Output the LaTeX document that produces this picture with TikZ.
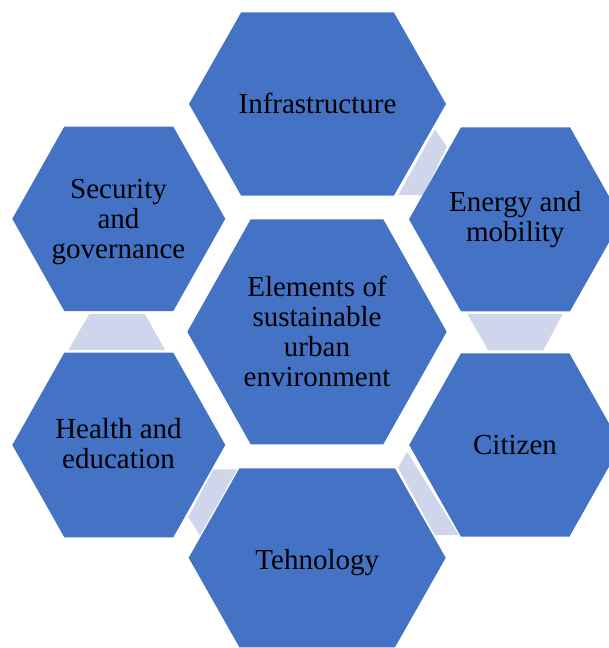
\documentclass[tikz,border=0pt]{standalone}
\usepackage{fontspec}
\setmainfont{Liberation Serif}
\definecolor{hexblue}{HTML}{4472C4}
\definecolor{hexlight}{HTML}{CFD5EA}
\tikzset{
  hexfill/.style={fill=hexblue},
  linkfill/.style={fill=hexlight},
  hexlabel/.style={anchor=base, inner sep=0pt, font=\fontsize{29}{30}\selectfont, text=black}
}
% #1 style, #2 cx, #3 cy, #4 half width, #5 half top edge, #6 half height
\newcommand{\hexshape}[6]{\fill[#1] ({#2-#4},#3) -- ({#2-#5},{#3-#6}) -- ({#2+#5},{#3-#6}) -- ({#2+#4},#3) -- ({#2+#5},{#3+#6}) -- ({#2-#5},{#3+#6}) -- cycle;}
\newcommand{\lines}[1]{\begin{tabular}[t]{@{}c@{}}#1\end{tabular}}
\begin{document}
\begin{tikzpicture}[x=1pt,y=-1pt]
\useasboundingbox (0,0) rectangle (609,648);
\clip (0,0) rectangle (609,648);
% light link shapes
\fill[linkfill] (435,129.3) -- (446.7,146.7) -- (423.3,195) -- (398.3,195) -- cycle;
\fill[linkfill] (467.3,314) -- (562.7,314) -- (543.3,350.3) -- (488.3,350.3) -- cycle;
\fill[linkfill] (89.3,314) -- (145,314) -- (165,350) -- (68.3,350) -- cycle;
\fill[linkfill] (213.3,469.3) -- (237.3,469.3) -- (200,535.3) -- (188.3,517) -- cycle;
\fill[linkfill] (407,451.7) -- (398,467.7) -- (434.7,535) -- (458.7,535) -- cycle;
% hexagons
\hexshape{hexfill}{317.5}{104}{128.5}{76.3}{91.7}
\hexshape{hexfill}{317.2}{557.8}{128.5}{77.8}{89.5}
\hexshape{hexfill}{317}{331.8}{129.7}{66.3}{112.5}
\hexshape{hexfill}{515.5}{219.3}{106.5}{54.5}{92}
\hexshape{hexfill}{515.2}{445}{106}{54.2}{91.7}
\hexshape{hexfill}{118.8}{218.8}{106.5}{54.5}{92.2}
\hexshape{hexfill}{118.8}{445}{106.5}{54.5}{92.3}
% labels
\node[hexlabel] (infra) at (317.5,113.3) {Infrastructure};
\node[hexlabel] (energy) at (515.3,211.7) {\lines{Energy and\\mobility}};
\node[hexlabel] (core) at (317,296) {\lines{Elements of\\sustainable\\urban\\environment}};
\node[hexlabel] (security) at (118.5,198.3) {\lines{Security\\and\\governance}};
\node[hexlabel] (health) at (118.5,438.3) {\lines{Health and\\education}};
\node[hexlabel] (citizen) at (515,454) {Citizen};
\node[hexlabel] (tech) at (317.3,569) {Tehnology};
\end{tikzpicture}
\end{document}
